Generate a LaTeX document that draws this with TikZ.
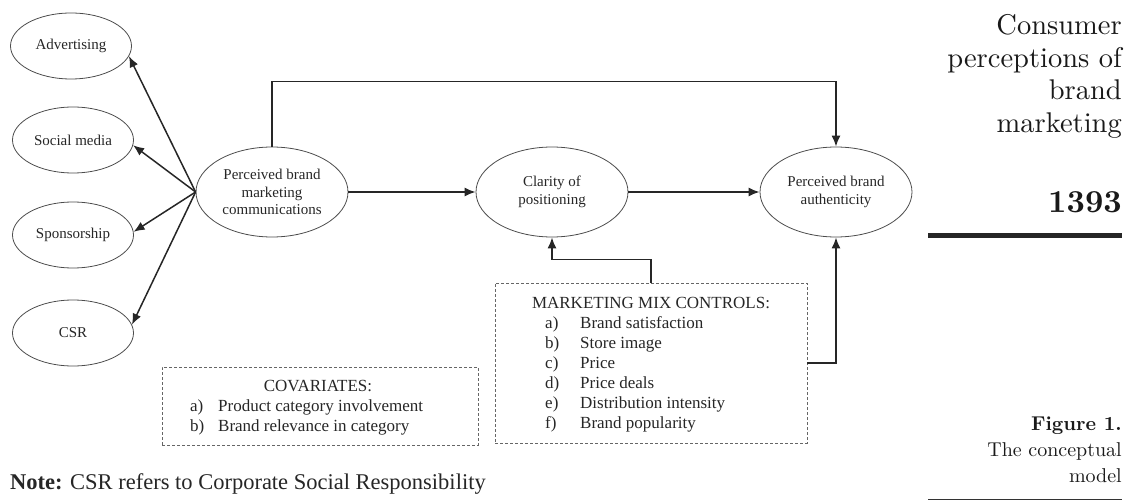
\documentclass[tikz,border=0pt]{standalone}
\usepackage{fontspec}
\setmainfont{Liberation Serif}
\newfontfamily\lmfont{lmroman10-regular.otf}[BoldFont=lmroman10-bold.otf]
\usetikzlibrary{shapes.geometric,arrows.meta}

\newcommand{\fs}[2]{\fontsize{#1}{#2}\selectfont}

\begin{document}
\begin{tikzpicture}[x=1pt,y=-1pt,
  oval/.style={ellipse,draw=black!70,line width=0.8pt,inner sep=0pt,align=center,
               text=black!85,font=\fs{15}{17.5}},
  smalloval/.style={oval,minimum width=121pt,minimum height=66pt},
  bigoval/.style={oval,minimum width=152pt,minimum height=90pt},
  arr/.style={line width=1.5pt,draw=black!85,-{Latex[length=11pt,width=9pt]}},
  dashbox/.style={draw=black!60,dashed,line width=0.8pt,dash pattern=on 3pt off 2pt,inner sep=0pt},
  boxtext/.style={text=black!85,align=left,inner sep=0pt},
  margintext/.style={text=black!90,align=right,inner sep=0pt}
]
\useasboundingbox (0,0) rectangle (1136,500);

% outer ovals
\node[smalloval] (adv) at (71,46)  {Advertising};
\node[smalloval] (soc) at (73,140) {Social media};
\node[smalloval] (spo) at (73,235) {Sponsorship};
\node[smalloval] (csr) at (73,333) {CSR};

% main constructs
\node[bigoval] (pbmc) at (272,192) {Perceived brand\\marketing\\communications};
\node[bigoval] (clar) at (552,192) {Clarity of\\positioning};
\node[bigoval] (pba)  at (836,192) {Perceived brand\\authenticity};

% fan of arrows
\draw[arr] (pbmc.west) -- (adv.-10);
\draw[arr] (pbmc.west) -- (soc.-5);
\draw[arr] (pbmc.west) -- (spo.3);
\draw[arr] (pbmc.west) -- (csr.8);

% structural paths
\draw[arr] (pbmc.east) -- (clar.west);
\draw[arr] (clar.east) -- (pba.west);
\draw[arr] (pbmc.north) -- ++(0,-65) -| (pba.north);

% marketing mix controls (multi-line nodes sit on their last baseline)
\node[dashbox,minimum width=312pt,minimum height=160pt] (mmc) at (651,363) {};
\node[boxtext,anchor=base,font=\fs{17}{20}] (mmct) at (651,308) {MARKETING MIX CONTROLS:};
\node[boxtext,anchor=base west,font=\fs{17}{20}] (mmcl) at (545,428) {%
  \makebox[35pt][l]{a)}Brand satisfaction\\
  \makebox[35pt][l]{b)}Store image\\
  \makebox[35pt][l]{c)}Price\\
  \makebox[35pt][l]{d)}Price deals\\
  \makebox[35pt][l]{e)}Distribution intensity\\
  \makebox[35pt][l]{f)}Brand popularity};
\draw[arr] (mmc.north) -- ++(0,-23) -| (clar.south);
\draw[arr] (mmc.east) -| (pba.south);

% covariates
\node[dashbox,minimum width=316pt,minimum height=78pt] (cov) at (320,406) {};
\node[boxtext,anchor=base,font=\fs{17}{19.5}] (covt) at (318,391) {COVARIATES:};
\node[boxtext,anchor=base west,font=\fs{17}{19.5}] (covl) at (190,431) {%
  \makebox[28pt][l]{a)}Product category involvement\\
  \makebox[28pt][l]{b)}Brand relevance in category};

% note
\node[anchor=base west,inner sep=0pt,text=black!85,font=\fs{22.5}{25}] (note) at (10,489)
  {\textbf{Note:} CSR refers to Corporate Social Responsibility};

% running head in the margin
\node[margintext,anchor=base east,font=\lmfont\fs{28.5}{32.5}] (head) at (1122,132.5)
  {Consumer\\perceptions of\\brand\\marketing};
\node[margintext,anchor=base east,font=\lmfont\bfseries\fs{32}{36}] (page) at (1122,213) {1393};
\fill[black!85] (928,233) rectangle (1122,238);

\node[margintext,anchor=base east,font=\lmfont\fs{20}{26}] (cap) at (1122,482)
  {\textbf{Figure 1.}\\The conceptual\\model};
\draw[black!80,line width=1pt] (928,499) -- (1122,499);
\end{tikzpicture}
\end{document}
